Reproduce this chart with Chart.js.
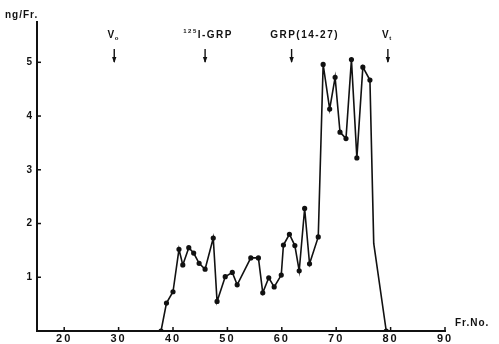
<!DOCTYPE html>
<html>
<head>
<meta charset="utf-8">
<script src="https://cdn.jsdelivr.net/npm/chart.js@4.4.1/dist/chart.umd.min.js"></script>
<style>
  html, body { margin: 0; padding: 0; background: #fff; }
  #wrap { width: 499px; height: 344px; }
</style>
</head>
<body>
<div id="wrap"><canvas id="elution"></canvas></div>
<script>
// fraction number / ng per fraction
const fractionNo = [37.8, 38.8, 40.0, 41.1, 41.8, 42.9, 43.8, 44.8, 45.9, 47.4,
                    48.1, 49.6, 50.9, 51.8, 54.3, 55.7, 56.5, 57.6, 58.6, 59.9,
                    60.3, 61.4, 62.4, 63.2, 64.2, 65.1, 66.7, 67.6, 68.8, 69.8,
                    70.7, 71.8, 72.8, 73.8, 74.9, 76.2, 76.9, 79.2];
const ngPerFr = [0, 0.52, 0.73, 1.52, 1.23, 1.55, 1.45, 1.26, 1.15, 1.73,
                 0.55, 1.01, 1.09, 0.86, 1.36, 1.36, 0.71, 0.99, 0.82, 1.04,
                 1.60, 1.80, 1.59, 1.12, 2.28, 1.25, 1.75, 4.96, 4.13, 4.72,
                 3.70, 3.58, 5.05, 3.22, 4.91, 4.67, 1.63, 0];

const xTicks = [20, 30, 40, 50, 60, 70, 80, 90];
const yTicks = [1, 2, 3, 4, 5];

// arrows marking the void volume, markers and total volume
const markerFractions = [29.2, 45.9, 61.8, 79.5];
const markerLabels = [
    { sup: '', main: 'V', sub: 'o' },
    { sup: '125', main: 'I-GRP', sub: '' },
    { sup: '', main: 'GRP(14-27)', sub: '' },
    { sup: '', main: 'V', sub: 't' }
];

const FONT = '"Liberation Sans", Arial, sans-serif';

const drawExtras = {
    id: 'drawExtras',
    beforeDraw(chart) {
        chart.ctx.letterSpacing = '2px';
    },
    afterDraw(chart) {
        const ctx = chart.ctx;
        const x = chart.scales.x, y = chart.scales.y;
        const area = chart.chartArea;
        ctx.save();
        ctx.strokeStyle = '#111';
        ctx.fillStyle = '#111';
        ctx.lineWidth = 1.5;

        // inward tick marks
        xTicks.forEach(v => {
            const px = x.getPixelForValue(v);
            ctx.beginPath();
            ctx.moveTo(px, area.bottom);
            ctx.lineTo(px, area.bottom - 4);
            ctx.stroke();
        });
        yTicks.forEach(v => {
            const py = y.getPixelForValue(v);
            ctx.beginPath();
            ctx.moveTo(area.left, py);
            ctx.lineTo(area.left + 4, py);
            ctx.stroke();
        });

        // axis titles
        ctx.letterSpacing = '1px';
        ctx.font = 'bold 10px ' + FONT;
        ctx.textBaseline = 'middle';
        ctx.textAlign = 'left';
        ctx.fillText('ng/Fr.', 5, 15);
        ctx.fillText('Fr.No.', area.right + 10, area.bottom - 8);

        // arrows + labels
        const labelOffset = [0, 3, 13, 0];
        markerFractions.forEach((f, i) => {
            const px = x.getPixelForValue(f);
            ctx.lineWidth = 1.4;
            ctx.beginPath();
            ctx.moveTo(px, 49);
            ctx.lineTo(px, 62);
            ctx.stroke();
            ctx.beginPath();
            ctx.moveTo(px - 2.2, 57);
            ctx.lineTo(px + 2.2, 57);
            ctx.lineTo(px, 63);
            ctx.closePath();
            ctx.fill();

            const lab = markerLabels[i];
            ctx.letterSpacing = '1.5px';
            ctx.font = 'bold 6px ' + FONT;
            const wSup = lab.sup ? ctx.measureText(lab.sup).width : 0;
            const wSub = lab.sub ? ctx.measureText(lab.sub).width : 0;
            ctx.font = 'bold 10px ' + FONT;
            const wMain = ctx.measureText(lab.main).width;
            let cx = px + labelOffset[i] - (wSup + wMain + wSub) / 2;
            const cy = 35;
            if (lab.sup) {
                ctx.font = 'bold 6px ' + FONT;
                ctx.fillText(lab.sup, cx, cy - 4);
                cx += wSup;
            }
            ctx.font = 'bold 10px ' + FONT;
            ctx.fillText(lab.main, cx, cy);
            cx += wMain - 1;
            if (lab.sub) {
                ctx.font = 'bold 6px ' + FONT;
                ctx.fillText(lab.sub, cx, cy + 3);
            }
        });
        ctx.restore();
        ctx.letterSpacing = '0px';
    }
};

window.addEventListener('load', () => {
    const ctx = document.getElementById('elution');
    new Chart(ctx, {
        type: 'line',
        data: {
            datasets: [{
                data: fractionNo.map((f, i) => ({ x: f, y: ngPerFr[i] })),
                borderColor: '#111',
                backgroundColor: '#111',
                borderWidth: 1.6,
                pointRadius: c => (c.dataIndex === 36 ? 0 : 1.8),
                pointHoverRadius: 0,
                tension: 0,
                fill: false
            }]
        },
        options: {
            responsive: true,
            maintainAspectRatio: false,
            animation: false,
            events: [],
            layout: { padding: { top: 22, right: 54, left: 0, bottom: 0 } },
            plugins: {
                legend: { display: false },
                tooltip: { enabled: false }
            },
            scales: {
                x: {
                    type: 'linear',
                    min: 15,
                    max: 90,
                    afterBuildTicks: s => { s.ticks = xTicks.map(v => ({ value: v })); },
                    afterFit: s => { s.height = 13; },
                    grid: { display: false, drawTicks: false },
                    border: { display: true, color: '#111', width: 2 },
                    ticks: {
                        color: '#111',
                        padding: 2,
                        maxRotation: 0,
                        autoSkip: false,
                        font: { family: FONT, size: 11, weight: 'bold', lineHeight: 1 }
                    }
                },
                y: {
                    min: 0,
                    max: 5.75,
                    afterBuildTicks: s => { s.ticks = yTicks.map(v => ({ value: v })); },
                    afterFit: s => { s.width = 37; },
                    grid: { display: false, drawTicks: false },
                    border: { display: true, color: '#111', width: 2 },
                    ticks: {
                        color: '#111',
                        padding: 3,
                        font: { family: FONT, size: 10, weight: 'bold' }
                    }
                }
            }
        },
        plugins: [drawExtras]
    });
});
</script>
</body>
</html>
